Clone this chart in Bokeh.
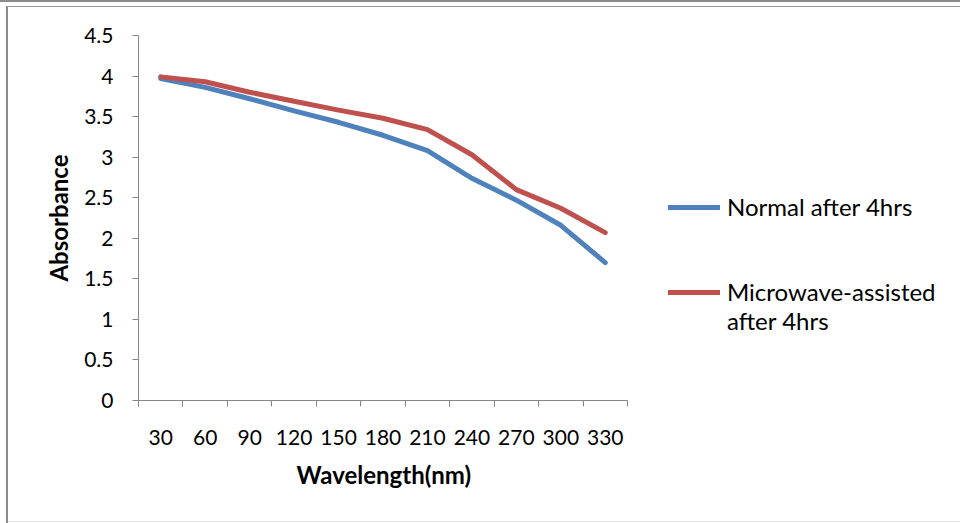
from bokeh.plotting import figure
from bokeh.models import FixedTicker, Legend, LegendItem, Range1d, NumeralTickFormatter, Title
from bokeh.embed import file_html
from bokeh.resources import INLINE

# ---- data ----
wavelengths = [30, 60, 90, 120, 150, 180, 210, 240, 270, 300, 330]
normal_4hrs = [3.97, 3.86, 3.72, 3.57, 3.43, 3.27, 3.08, 2.74, 2.47, 2.16, 1.70]
microwave_4hrs = [3.99, 3.93, 3.80, 3.69, 3.58, 3.48, 3.34, 3.03, 2.60, 2.37, 2.07]
y_ticks = [0, 0.5, 1, 1.5, 2, 2.5, 3, 3.5, 4, 4.5]
legend_labels = ["Normal after 4hrs", " ", " ", "Microwave-assisted", "after 4hrs"]
x_title = "Wavelength(nm)"
y_title = "Absorbance"

FONT = "Lato"
AXIS_GRAY = "#868686"
BLUE = "#4F81BD"
RED = "#C0504D"

W, H = 960, 523
LEFT, RIGHT_EDGE, TOP, BOTTOM = 138, 950, 35, 400   # frame box in px
AXIS_PX = 489                                          # visible x-axis length in px

step = wavelengths[1] - wavelengths[0]
x_lo = wavelengths[0] - step / 2
x_hi_axis = wavelengths[-1] + step / 2
x_hi = x_lo + (x_hi_axis - x_lo) * (RIGHT_EDGE - LEFT) / AXIS_PX

p = figure(width=W, height=H, output_backend="svg", toolbar_location=None,
           x_range=Range1d(x_lo, x_hi), y_range=Range1d(0, 4.5),
           min_border_left=LEFT, min_border_right=W - RIGHT_EDGE,
           min_border_top=TOP, min_border_bottom=H - BOTTOM)
p.xgrid.visible = False
p.ygrid.visible = False
p.outline_line_color = None
p.background_fill_alpha = 0
p.border_fill_alpha = 0
# page/chart-box frame lines drawn behind the transparent canvas
p.styles = {
    "background": (
        "linear-gradient(#8c8c8c,#8c8c8c) 0 0/100% 2px no-repeat,"
        "linear-gradient(#999999,#999999) 6px 6px/100% 1px no-repeat,"
        "linear-gradient(#8c8c8c,#8c8c8c) 6px 6px/2px 100% no-repeat,"
        "linear-gradient(#e4e4e4,#e4e4e4) 8px 521px/100% 1px no-repeat,"
        "white"
    )
}

r1 = p.line(wavelengths, normal_4hrs, line_color=BLUE, line_width=5,
            line_cap="round", line_join="round")
r2 = p.line(wavelengths, microwave_4hrs, line_color=RED, line_width=5,
            line_cap="round", line_join="round")
r_blank = p.line([], [], line_alpha=0)

# x axis: labels at categories, tick marks between categories
xa = p.xaxis[0]
xa.bounds = (x_lo, x_hi_axis)
xa.ticker = FixedTicker(ticks=wavelengths,
                        minor_ticks=[w - step / 2 for w in wavelengths] + [x_hi_axis])
xa.major_tick_line_color = None
xa.major_tick_out = 0
xa.major_tick_in = 0
xa.minor_tick_line_color = AXIS_GRAY
xa.minor_tick_out = 6
xa.minor_tick_in = 0
xa.axis_line_color = AXIS_GRAY
xa.major_label_standoff = 23
xa.major_label_text_font = FONT
xa.major_label_text_font_size = "21px"
xa.major_label_text_color = "black"

# x-axis title placed under the visible axis (not the wider frame)
xt = Title(text=x_title, align="left", offset=158,
           text_font=FONT, text_font_size="24px", text_font_style="bold",
           text_color="black", standoff=21)
p.add_layout(xt, "below")

ya = p.yaxis[0]
ya.ticker = FixedTicker(ticks=y_ticks, minor_ticks=[])
ya.formatter = NumeralTickFormatter(format="0.[0]")
ya.major_tick_line_color = AXIS_GRAY
ya.major_tick_out = 6
ya.major_tick_in = 0
ya.axis_line_color = AXIS_GRAY
ya.major_label_standoff = 19
ya.major_label_text_font = FONT
ya.major_label_text_font_size = "21px"
ya.major_label_text_color = "black"
ya.axis_label = y_title
ya.axis_label_text_font = FONT
ya.axis_label_text_font_size = "24px"
ya.axis_label_text_font_style = "bold"
ya.axis_label_text_color = "black"
ya.axis_label_standoff = 8

items = [
    LegendItem(label=legend_labels[0], renderers=[r1]),
    LegendItem(label=legend_labels[1], renderers=[r_blank]),
    LegendItem(label=legend_labels[2], renderers=[r_blank]),
    LegendItem(label=legend_labels[3], renderers=[r2]),
    LegendItem(label=legend_labels[4], renderers=[r_blank]),
]
lg = Legend(items=items, location=(668 - LEFT, 65))
lg.border_line_color = None
lg.background_fill_alpha = 0
lg.padding = 0
lg.margin = 0
lg.spacing = 0
lg.glyph_width = 52
lg.glyph_height = 28
lg.label_height = 28
lg.label_standoff = 7
lg.label_text_font = FONT
lg.label_text_font_size = "24px"
lg.label_text_color = "black"
lg.label_text_baseline = "middle"
p.add_layout(lg, "center")

open("out.html", "w").write(file_html(p, INLINE))
